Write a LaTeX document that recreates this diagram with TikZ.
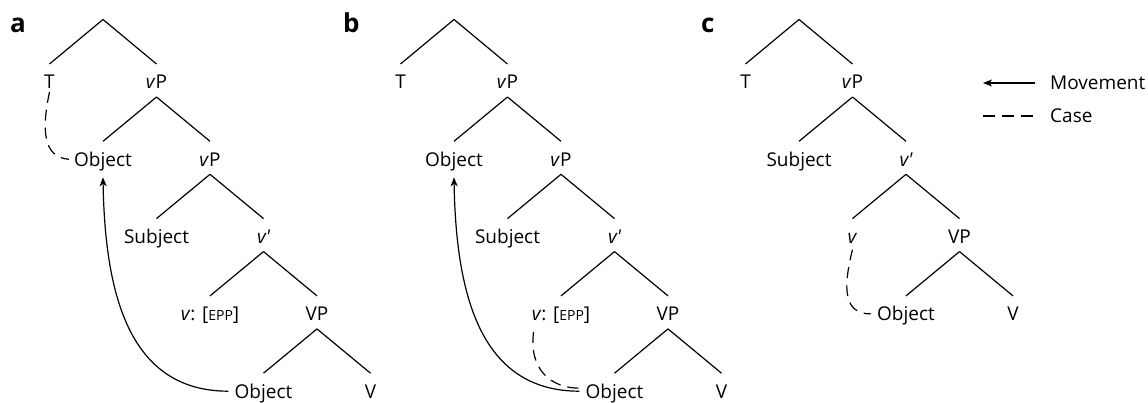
\documentclass[tikz,border=0pt]{standalone}
\usepackage{fontspec}
\setmainfont{Open Sans}
\usetikzlibrary{arrows.meta,calc}
\newcommand\tbranch[2]{\draw[branch] ([yshift=-15pt]#1.center) -- ([yshift=18pt]#2.center);}
\newcommand\epp{[{\fontsize{14}{16}\selectfont EPP}]}
\newcommand\vbar{{\itshape v\textquotesingle}}
\begin{document}
\begin{tikzpicture}[x=1pt,y=-1pt,
  lab/.style={inner sep=0pt,text height=13.6pt,text depth=0pt,font=\fontsize{19}{22}\selectfont},
  branch/.style={line width=1.2pt},
  case/.style={line width=1.2pt,dash pattern=on 11pt off 7pt},
  legcase/.style={line width=1.2pt,dash pattern=on 11.7pt off 7.3pt},
  move/.style={line width=1.2pt,-{Stealth[length=9pt,width=7pt,inset=2.5pt]}},
  panel/.style={inner sep=0pt,anchor=base west,font=\fontsize{26}{30}\bfseries\selectfont}]
\useasboundingbox (0,0) rectangle (1148,403);

% panel letters
\node[panel] (la) at (10,33) {a};
\node[panel] (lb) at (343,33) {b};
\node[panel] (lc) at (701,33) {c};

% ---------- tree a ----------
\coordinate (ra) at (103,19.5);
\node[lab] (Ta)  at (49.5,82) {T};
\node[lab] (vPa) at (156.5,82) {\textit{v}P};
\node[lab] (Oa)  at (103,159.3) {Object};
\node[lab] (vQa) at (210,159.3) {\textit{v}P};
\node[lab] (Sa)  at (156.5,236.6) {Subject};
\node[lab] (vba) at (263.5,236.6) {\vbar};
\node[lab] (vEa) at (210,313.9) {\textit{v}: \epp};
\node[lab] (VPa) at (317,313.9) {VP};
\node[lab] (Oba) at (263.5,391.2) {Object};
\node[lab] (Va)  at (370.5,391.2) {V};
\draw[branch] (ra) -- ([yshift=18pt]Ta.center);
\draw[branch] (ra) -- ([yshift=18pt]vPa.center);
\tbranch{vPa}{Oa}\tbranch{vPa}{vQa}
\tbranch{vQa}{Sa}\tbranch{vQa}{vba}
\tbranch{vba}{vEa}\tbranch{vba}{VPa}
\tbranch{VPa}{Oba}\tbranch{VPa}{Va}
\draw[move] ([xshift=-6pt]Oba.west) .. controls +(-97,0) and +(2,122) .. ([yshift=-18pt]Oa.center);
\draw[case] ([yshift=-10pt]Ta.center) .. controls +(-8,38) and +(-26,-2) .. ([xshift=-5pt]Oa.west);

% ---------- tree b ----------
\begin{scope}[xshift=351pt]
\coordinate (rb) at (103,19.5);
\node[lab] (Tb)  at (49.5,82) {T};
\node[lab] (vPb) at (156.5,82) {\textit{v}P};
\node[lab] (Ob)  at (103,159.3) {Object};
\node[lab] (vQb) at (210,159.3) {\textit{v}P};
\node[lab] (Sb)  at (156.5,236.6) {Subject};
\node[lab] (vbb) at (263.5,236.6) {\vbar};
\node[lab] (vEb) at (210,313.9) {\textit{v}: \epp};
\node[lab] (VPb) at (317,313.9) {VP};
\node[lab] (Obb) at (263.5,391.2) {Object};
\node[lab] (Vb)  at (370.5,391.2) {V};
\end{scope}
\draw[branch] (rb) -- ([yshift=18pt]Tb.center);
\draw[branch] (rb) -- ([yshift=18pt]vPb.center);
\tbranch{vPb}{Ob}\tbranch{vPb}{vQb}
\tbranch{vQb}{Sb}\tbranch{vQb}{vbb}
\tbranch{vbb}{vEb}\tbranch{vbb}{VPb}
\tbranch{VPb}{Obb}\tbranch{VPb}{Vb}
\draw[move] ([xshift=-6pt]Obb.west) .. controls +(-97,0) and +(2,122) .. ([yshift=-18pt]Ob.center);
\draw[case] ([xshift=2pt,yshift=-18pt]vEb.west) .. controls +(-5,38) and +(-28,0) .. ([xshift=-6pt,yshift=3pt]Obb.west);

% ---------- tree c ----------
\begin{scope}[xshift=696pt]
\coordinate (rc) at (103,19.5);
\node[lab] (Tc)  at (49.5,82) {T};
\node[lab] (vPc) at (156.5,82) {\textit{v}P};
\node[lab] (Sc)  at (103,159.3) {Subject};
\node[lab] (vbc) at (210,159.3) {\vbar};
\node[lab] (vc)  at (156.5,236.6) {\textit{v}};
\node[lab] (VPc) at (263.5,236.6) {VP};
\node[lab] (Oc)  at (210,313.9) {Object};
\node[lab] (Vc)  at (317,313.9) {V};
\end{scope}
\draw[branch] (rc) -- ([yshift=18pt]Tc.center);
\draw[branch] (rc) -- ([yshift=18pt]vPc.center);
\tbranch{vPc}{Sc}\tbranch{vPc}{vbc}
\tbranch{vbc}{vc}\tbranch{vbc}{VPc}
\tbranch{VPc}{Oc}\tbranch{VPc}{Vc}
\draw[case] ([yshift=-13pt]vc.center) .. controls +(-10,40) and +(-27,0) .. ([xshift=-6pt]Oc.west);

% ---------- legend ----------
\node[lab,anchor=west] (mv) at (1050,83) {Movement};
\node[lab,anchor=west] (cs) at (1050,116) {Case};
\draw[move] ([xshift=-15pt]mv.west) -- ([xshift=-67pt]mv.west);
\draw[legcase] ([xshift=-17pt]cs.west) -- ([xshift=-67pt]cs.west);
\end{tikzpicture}
\end{document}
